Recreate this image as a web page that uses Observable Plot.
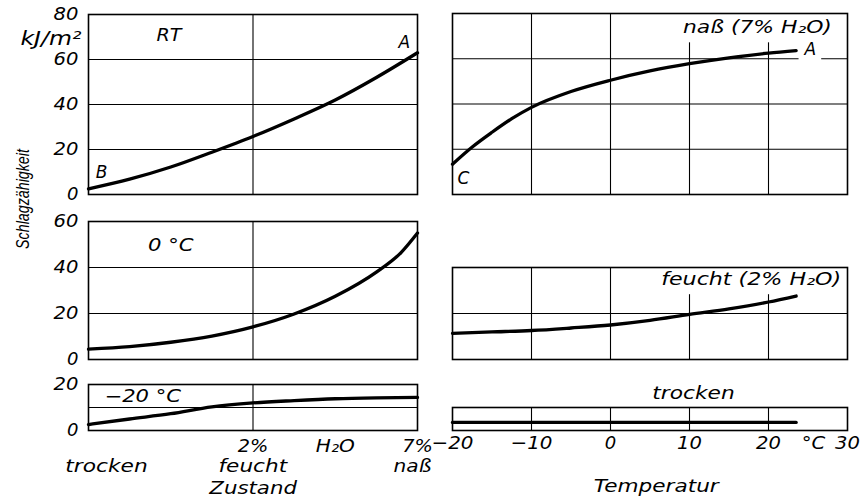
<!DOCTYPE html>
<html>
<head>
<meta charset="utf-8">
<script src="https://cdn.jsdelivr.net/npm/d3@7"></script>
<script src="https://cdn.jsdelivr.net/npm/@observablehq/plot@0.6"></script>
<style>
  body { margin: 0; background: #fff; }
  #fig { position: relative; width: 866px; height: 501px; overflow: hidden; background: #fff; }
  #fig svg { position: absolute; overflow: visible; }
  #ylabel {
    position: absolute; left: 23px; top: 199px;
    transform: translate(-50%, -50%) rotate(-90deg) scale(0.75, 1);
    font: italic 19px "Liberation Sans", sans-serif; white-space: nowrap; color: #000;
  }
</style>
</head>
<body>
<div id="fig"><div id="ylabel">Schlagzähigkeit</div></div>
<script>
// Zustand (moisture state) on a 0..2 axis: 0 = trocken, 1 = feucht (2 % H2O), 2 = naß (7 % H2O)
const zustandRT = [0, 0.25, 0.5, 0.75, 1, 1.25, 1.5, 1.75, 2];
const schlagRT = [2.5, 6.8, 12.2, 18.8, 25.8, 33.6, 42, 52, 63];

const zustand0 = [0, 0.25, 0.5, 0.75, 1, 1.25, 1.5, 1.75, 1.9, 2];
const schlag0 = [4.5, 5.6, 7.5, 10.2, 14.2, 19.8, 27.5, 38, 46.5, 55];

const zustandM20 = [0, 0.25, 0.5, 0.75, 1, 1.25, 1.5, 1.75, 2];
const schlagM20 = [2.6, 5, 7.3, 10.3, 12, 13, 13.8, 14.2, 14.4];

// Temperature series, °C
const tempNass = [-20, -17.5, -15, -12.5, -10, -5, 0, 5, 10, 15, 20, 23.5];
const schlagNass = [13.4, 21, 27.5, 33.5, 38.5, 45.5, 50.5, 54.6, 57.8, 60.4, 62.5, 63.6];
const temperatur = [-20, -15, -10, -5, 0, 5, 10, 15, 20, 23.5];
const schlagFeucht = [11.4, 12, 12.6, 13.7, 15, 17, 19.6, 22, 25, 27.6];
const schlagTrocken = [3.5, 3.5, 3.5, 3.5, 3.5, 3.5, 3.5, 3.5, 3.5, 3.5];

// Axis ticks and labels
const zustandGrid = [1];
const zustandTopRow = [{u: 1, t: "2%"}, {u: 1.5, t: "H₂O"}, {u: 2, t: "7%"}];
const zustandNames = [{u: 0, t: "trocken"}, {u: 1, t: "feucht"}, {u: 2, t: "naß"}];
const tempTicks = [-20, -10, 0, 10, 20, 30];
const tempGrid = [-10, 0, 10, 20];

const fig = document.getElementById("fig");
const font = {fontFamily: '"DejaVu Sans", sans-serif', fontStyle: "oblique", background: "transparent"};
const grid = {stroke: "black", strokeOpacity: 1, strokeWidth: 1.1};
const curve = {stroke: "black", strokeWidth: 3.3, curve: "monotone-x"};
const frame = Plot.frame({stroke: "black", strokeWidth: 1.6});
const series = (xs, ys) => xs.map((x, i) => ({x, y: ys[i]}));

// Tag a mark's group with a class so its lettering can be styled afterwards
const tagged = cls => ({
  render(index, scales, values, dimensions, context, next) {
    const g = next(index, scales, values, dimensions, context);
    g.classList.add(cls);
    return g;
  }
});

// Widen the lettering about its anchor point (letter-spaced, extended type)
const spacing = [
  [".label text", 3], [".boxed text", 3], [".tick text", 2],
  ['g[aria-label="y-axis tick label"] text', 2], ['g[aria-label="x-axis tick label"] text', 2]
];
function spaceText(svg) {
  for (const [sel, s] of spacing) {
    svg.querySelectorAll(sel).forEach(t => {
      const n = [...t.textContent].length;
      if (n < 2) return;
      const b = t.getBBox();
      if (!(b.width > 0)) return;
      const k = (b.width + s * (n - 1)) / b.width;
      const anchor = getComputedStyle(t).textAnchor;
      const ax = anchor === "middle" ? b.x + b.width / 2 : anchor === "end" ? b.x + b.width : b.x;
      const tr = t.getAttribute("transform") || "";
      t.setAttribute("transform", `${tr} translate(${ax.toFixed(2)},0) scale(${k.toFixed(4)},1) translate(${(-ax).toFixed(2)},0)`);
    });
  }
}

// White boxes behind labels that interrupt the grid
function boxLabels(svg, padX, padY) {
  svg.querySelectorAll(".boxed text").forEach(t => {
    const b = t.getBBox();
    const r = document.createElementNS("http://www.w3.org/2000/svg", "rect");
    r.setAttribute("x", b.x - padX);
    r.setAttribute("y", b.y - padY);
    r.setAttribute("width", b.width + 2 * padX);
    r.setAttribute("height", b.height + 2 * padY);
    r.setAttribute("fill", "white");
    const tr = t.getAttribute("transform");
    if (tr) r.setAttribute("transform", tr);
    t.parentNode.insertBefore(r, t);
  });
}

function place(svg, left, top, padX = 4, padY = 4) {
  svg.style.left = left + "px";
  svg.style.top = top + "px";
  fig.appendChild(svg);
  spaceText(svg);
  boxLabels(svg, padX, padY);
}

const label = (text, x, y, size = 17) =>
  Plot.text([text], {x: () => x, y: () => y, text: d => d, fontSize: size, ...tagged("label")});
const boxed = (text, x, y, size = 17) =>
  Plot.text([text], {x: () => x, y: () => y, text: d => d, fontSize: size, ...tagged("boxed")});
// lettering below or above a frame edge
const edgeText = (data, cls, opts) =>
  Plot.text(data, {lineAnchor: "middle", ...opts, ...tagged(cls)});

const yAxis = ticks => Plot.axisY({ticks, tickSize: 0, tickPadding: 10, fontSize: 18, label: null});

const left = {width: 423, marginLeft: 88, marginRight: 6, style: font};
const right = {width: 416, marginLeft: 7, marginRight: 14, style: font};

// Raumtemperatur
place(Plot.plot({
  ...left, height: 204, marginTop: 14, marginBottom: 10,
  x: {domain: [0, 2], axis: null},
  y: {domain: [0, 80], axis: null},
  marks: [
    Plot.gridY({ticks: [20, 40, 60], ...grid}),
    Plot.gridX({ticks: zustandGrid, ...grid}),
    yAxis([0, 20, 40, 60, 80]),
    edgeText(["kJ/m²"], "label", {frameAnchor: "top-left", text: d => d, textAnchor: "end", dx: -7, dy: 24, fontSize: 19}),
    label("RT", 0.49, 70.7),
    label("A", 1.92, 67.5),
    label("B", 0.08, 9.8),
    Plot.line(series(zustandRT, schlagRT), {x: "x", y: "y", ...curve}),
    frame
  ]
}), 0, 0);

// 0 °C
place(Plot.plot({
  ...left, height: 161, marginTop: 15, marginBottom: 8,
  x: {domain: [0, 2], axis: null},
  y: {domain: [0, 60], axis: null},
  marks: [
    Plot.gridY({ticks: [20, 40], ...grid}),
    Plot.gridX({ticks: zustandGrid, ...grid}),
    yAxis([0, 20, 40, 60]),
    label("0 °C", 0.5, 49.6),
    Plot.line(series(zustand0, schlag0), {x: "x", y: "y", ...curve}),
    frame
  ]
}), 0, 206);

// −20 °C with the Zustand axis below
place(Plot.plot({
  ...left, height: 131, marginTop: 14, marginBottom: 71,
  x: {domain: [0, 2], axis: null},
  y: {domain: [0, 20], axis: null},
  marks: [
    Plot.gridY({ticks: [10], ...grid}),
    Plot.gridX({ticks: zustandGrid, ...grid}),
    yAxis([0, 20]),
    label("−20 °C", 0.33, 14.8),
    edgeText(zustandTopRow, "tick", {x: "u", text: "t", frameAnchor: "bottom", dy: 16, fontSize: 18}),
    edgeText(zustandNames.slice(0, 1), "label", {x: "u", text: "t", frameAnchor: "bottom", dx: 18, dy: 36, fontSize: 17}),
    edgeText(zustandNames.slice(1, 2), "label", {x: "u", text: "t", frameAnchor: "bottom", dy: 36, fontSize: 17}),
    edgeText(zustandNames.slice(2), "label", {x: "u", text: "t", frameAnchor: "bottom", dx: -5, dy: 36, fontSize: 17}),
    edgeText(["Zustand"], "label", {x: () => 1, text: d => d, frameAnchor: "bottom", dy: 58, fontSize: 17}),
    Plot.line(series(zustandM20, schlagM20), {x: "x", y: "y", ...curve}),
    frame
  ]
}), 0, 370);

// naß (7 % H2O) over temperature
place(Plot.plot({
  ...right, height: 204, marginTop: 13, marginBottom: 10,
  x: {domain: [-20, 30], axis: null},
  y: {domain: [0, 80], axis: null},
  marks: [
    Plot.gridY({ticks: [20, 40, 60], ...grid}),
    Plot.gridX({ticks: tempGrid, ...grid}),
    boxed("naß (7% H₂O)", 18.6, 73.8),
    boxed("A", 25.3, 64),
    label("C", -18.6, 7),
    Plot.line(series(tempNass, schlagNass), {x: "x", y: "y", ...curve}),
    frame
  ]
}), 445, 0, 5, 5);

// feucht (2 % H2O) over temperature
place(Plot.plot({
  ...right, height: 117, marginTop: 17, marginBottom: 8,
  x: {domain: [-20, 30], axis: null},
  y: {domain: [0, 40], axis: null},
  marks: [
    Plot.gridY({ticks: [20], ...grid}),
    Plot.gridX({ticks: tempGrid, ...grid}),
    boxed("feucht (2% H₂O)", 17.8, 34.8),
    Plot.line(series(temperatur, schlagFeucht), {x: "x", y: "y", ...curve}),
    frame
  ]
}), 445, 250, 4, 5);

// trocken over temperature, with the temperature axis
place(Plot.plot({
  ...right, height: 129, marginTop: 35, marginBottom: 71,
  x: {domain: [-20, 30], axis: null},
  y: {domain: [0, 10], axis: null},
  marks: [
    Plot.gridX({ticks: tempGrid, ...grid}),
    Plot.axisX({ticks: tempTicks, tickSize: 0, tickPadding: 6, fontSize: 18, label: null}),
    edgeText(["°C"], "tick", {x: () => 25.7, text: d => d, frameAnchor: "bottom", dy: 13, fontSize: 18}),
    edgeText(["trocken"], "label", {x: () => 10.5, text: d => d, frameAnchor: "top", dy: -14, fontSize: 17}),
    edgeText(["Temperatur"], "label", {x: () => 5.8, text: d => d, frameAnchor: "bottom", dy: 56, fontSize: 17}),
    Plot.line(series(temperatur, schlagTrocken), {x: "x", y: "y", ...curve}),
    frame
  ]
}), 445, 372);
</script>
</body>
</html>
